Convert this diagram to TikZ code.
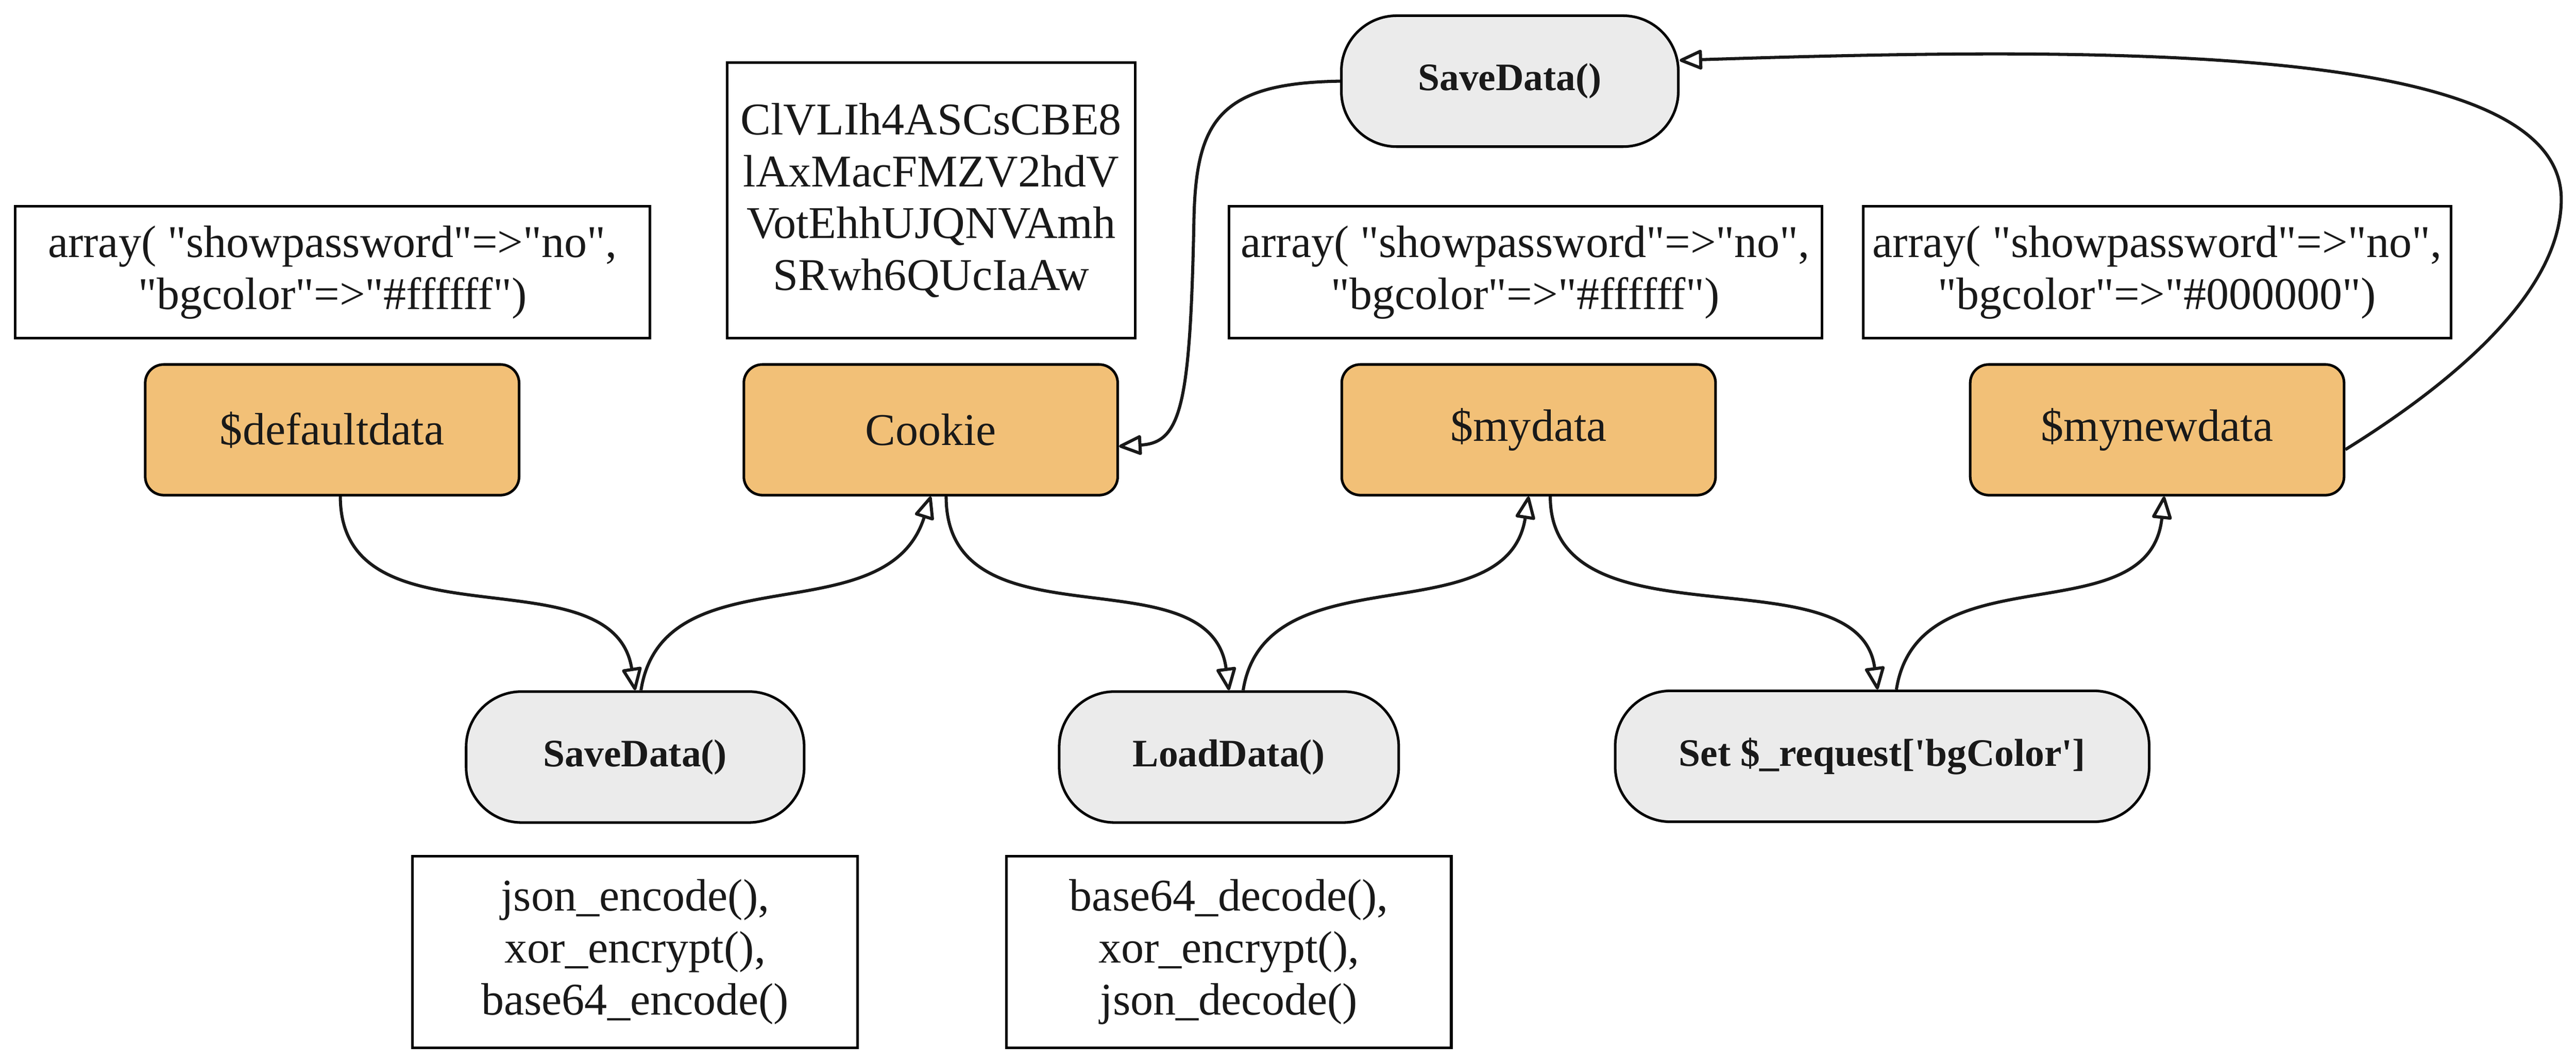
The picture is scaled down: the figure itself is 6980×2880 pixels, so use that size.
\documentclass[tikz,border=0pt]{standalone}
\usepackage{fontspec}
\setmainfont{Liberation Serif}[Ligatures=NoCommon]
\usetikzlibrary{arrows.meta}

\definecolor{naranja}{HTML}{F2C077}
\definecolor{gris}{HTML}{EBEBEB}
\newcommand{\cq}{\textquotedbl}

\begin{document}
\begin{tikzpicture}[x=0.1mm, y=-0.1mm,
    valbox/.style={draw=black, line width=2pt, fill=white, text=black!90, align=center, inner sep=0pt, minimum height=3.57cm, font=\fontsize{35}{40}\selectfont},
    databox/.style={draw=black, line width=2pt, fill=naranja, text=black!90, rounded corners=0.5cm, inner sep=0pt, minimum width=10.13cm, minimum height=3.54cm, font=\fontsize{35}{40}\selectfont},
    funcbox/.style={draw=black, line width=2pt, fill=gris, text=black!90, rounded corners=1.5cm, inner sep=0pt, minimum width=9.16cm, minimum height=3.55cm, font=\fontsize{30}{36}\selectfont\bfseries},
    flow/.style={draw=black!90, line width=2.4pt, -{Triangle[open, round, length=0.68cm, width=0.56cm]}}]
    \useasboundingbox (0,0) rectangle (6980,2880);

    % Valores
    \node[valbox, minimum width=17.19cm] (arr1) at (901,738) {array( \cq showpassword\cq=>\cq no\cq,\\\cq bgcolor\cq=>\cq\#ffffff\cq)};
    \node[valbox, minimum width=11.05cm, minimum height=7.47cm] (ckv) at (2523,543) {ClVLIh4ASCsCBE8\\lAxMacFMZV2hdV\\VotEhhUJQNVAmh\\SRwh6QUcIaAw};
    \node[valbox, minimum width=16.07cm] (arr2) at (4133,738) {array( \cq showpassword\cq=>\cq no\cq,\\\cq bgcolor\cq=>\cq\#ffffff\cq)};
    \node[valbox, minimum width=15.94cm] (arr3) at (5845,738) {array( \cq showpassword\cq=>\cq no\cq,\\\cq bgcolor\cq=>\cq\#000000\cq)};
    \node[valbox, minimum width=12.06cm, minimum height=5.19cm] (enc) at (1721,2580) {json\_encode(),\\xor\_encrypt(),\\base64\_encode()};
    \node[valbox, minimum width=12.05cm, minimum height=5.19cm] (dec) at (3330,2580) {base64\_decode(),\\xor\_encrypt(),\\json\_decode()};

    % Variables
    \node[databox] (dd) at (900,1165) {\$defaultdata};
    \node[databox] (ck) at (2522,1165) {Cookie};
    \node[databox] (md) at (4142,1165) {\$mydata};
    \node[databox] (mnd) at (5845,1165) {\$mynewdata};

    % Funciones
    \node[funcbox, minimum width=9.13cm] (st) at (4091,220) {SaveData()};
    \node[funcbox] (sb) at (1721,2052) {SaveData()};
    \node[funcbox, minimum width=9.2cm] (ld) at (3330,2052) {LoadData()};
    \node[funcbox, minimum width=14.47cm] (sr) at (5100,2050) {Set \$\_request[\textquotesingle bgColor\textquotesingle]};

    % Flechas
    \draw[flow] (dd.-83) .. controls +(0,420) and +(-60,-380) .. (sb.north);
    \draw[flow] (sb.85) .. controls +(60,-380) and +(-120,380) .. (ck.south);
    \draw[flow] (ck.-77) .. controls +(0,420) and +(-50,-380) .. (ld.north);
    \draw[flow] (ld.78) .. controls +(60,-380) and +(-60,380) .. (md.south);
    \draw[flow] (md.-72) .. controls +(0,420) and +(-50,-380) .. (sr.94);
    \draw[flow] (sr.78) .. controls +(60,-380) and +(-40,380) .. (mnd.-84);
    \draw[flow] (mnd.-6) .. controls (6652,1034) and (6940,790) .. (6940,540) .. controls (6940,120) and (5750,125) .. (st.7);
    \draw[flow] (st.west) .. controls (3300,225) and (3240,330) .. (3235,600) .. controls (3225,1100) and (3200,1200) .. (ck.-5);
\end{tikzpicture}
\end{document}
